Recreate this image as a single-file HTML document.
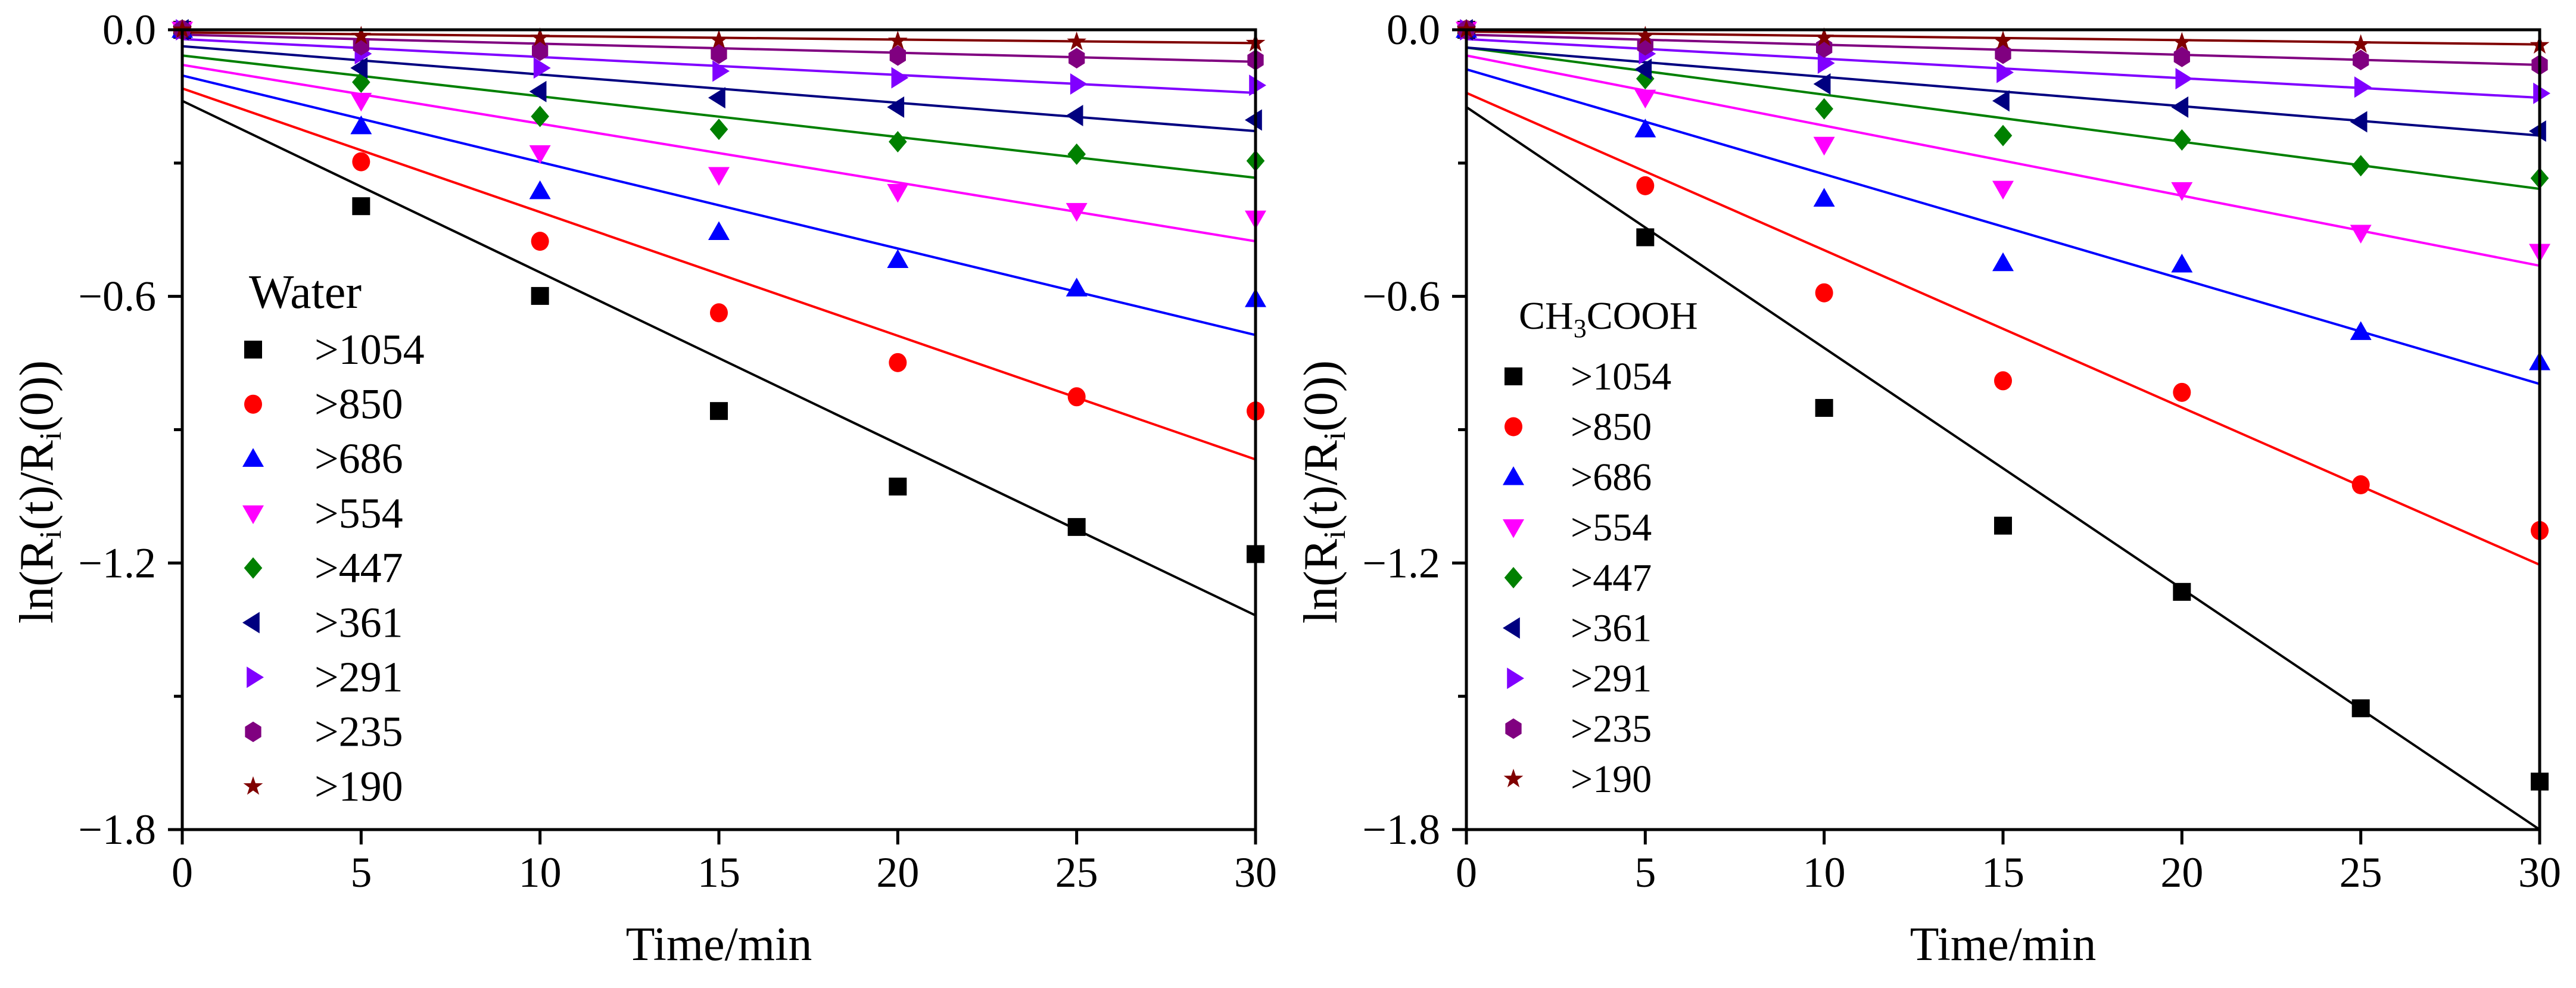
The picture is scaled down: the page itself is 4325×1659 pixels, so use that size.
<!DOCTYPE html>
<html><head><meta charset="utf-8"><style>
html,body{margin:0;padding:0;background:#fff;}
svg{display:block;font-family:"Liberation Serif","Times New Roman",serif;}
svg text{font-family:"Liberation Serif","Times New Roman",serif;}
</style></head><body>
<svg id="fig" width="4325" height="1659" viewBox="0 0 4325 1659" xmlns="http://www.w3.org/2000/svg"></svg>
<script>
// ---- data ----
const times = [0, 5, 10, 15, 20, 25, 30];
const seriesNames = [">1054", ">850", ">686", ">554", ">447", ">361", ">291", ">235", ">190"];
const seriesColors = ["#000000", "#ff0000", "#0000ff", "#ff00ff", "#008000", "#000080", "#8000ff", "#800080", "#800000"];
const seriesShapes = ["square", "circle", "up", "down", "diamond", "left", "right", "hex", "star"];
const yTicks = [0.0, -0.6, -1.2, -1.8];
const yTickLabels = ["0.0", "\u22120.6", "\u22121.2", "\u22121.8"];
const yMinorTicks = [-0.3, -0.9, -1.5];
const xTicks = [0, 5, 10, 15, 20, 25, 30];

// Water panel
const water1054 = [0, -0.397, -0.599, -0.858, -1.028, -1.119, -1.180];
const water850 = [0, -0.297, -0.476, -0.637, -0.749, -0.826, -0.858];
const water686 = [0, -0.217, -0.363, -0.455, -0.518, -0.582, -0.606];
const water554 = [0, -0.160, -0.278, -0.327, -0.365, -0.408, -0.425];
const water447 = [0, -0.118, -0.195, -0.224, -0.252, -0.280, -0.295];
const water361 = [0, -0.086, -0.139, -0.153, -0.174, -0.193, -0.203];
const water291 = [0, -0.054, -0.086, -0.093, -0.108, -0.122, -0.125];
const water235 = [0, -0.035, -0.047, -0.054, -0.058, -0.064, -0.068];
const water190 = [0, -0.014, -0.018, -0.023, -0.025, -0.027, -0.030];
const waterFitStart = [-0.160, -0.132, -0.103, -0.079, -0.058, -0.037, -0.021, -0.011, -0.006];
const waterFitEnd = [-1.318, -0.967, -0.687, -0.476, -0.333, -0.228, -0.142, -0.072, -0.030];

// CH3COOH panel
const acid1054 = [0, -0.467, -0.851, -1.116, -1.265, -1.527, -1.692];
const acid850 = [0, -0.351, -0.592, -0.790, -0.816, -1.024, -1.127];
const acid686 = [0, -0.224, -0.380, -0.525, -0.528, -0.680, -0.748];
const acid554 = [0, -0.153, -0.259, -0.358, -0.361, -0.457, -0.500];
const acid447 = [0, -0.110, -0.178, -0.238, -0.248, -0.306, -0.334];
const acid361 = [0, -0.089, -0.122, -0.160, -0.174, -0.207, -0.228];
const acid291 = [0, -0.054, -0.075, -0.096, -0.110, -0.129, -0.143];
const acid235 = [0, -0.035, -0.040, -0.054, -0.061, -0.068, -0.079];
const acid190 = [0, -0.014, -0.018, -0.025, -0.028, -0.033, -0.035];
const acidFitStart = [-0.174, -0.142, -0.089, -0.058, -0.040, -0.040, -0.021, -0.011, -0.004];
const acidFitEnd = [-1.800, -1.204, -0.797, -0.531, -0.358, -0.238, -0.153, -0.079, -0.033];

const NS = "http://www.w3.org/2000/svg";
const FONT = '"Liberation Serif", "Times New Roman", serif';
const svg = document.getElementById('fig');
function mk(tag, attrs, parent) {
  const e = document.createElementNS(NS, tag);
  for (const k in attrs) e.setAttribute(k, attrs[k]);
  if (tag === 'text') e.setAttribute('font-family', FONT);
  (parent || svg).appendChild(e);
  return e;
}

function marker(g, shape, cx, cy, color) {
  const s = 15;
  let e;
  if (shape === 'square') e = mk('rect', {x: cx - s, y: cy - s, width: 2 * s, height: 2 * s, fill: color}, g);
  else if (shape === 'circle') e = mk('ellipse', {cx: cx, cy: cy, rx: s, ry: s + 1, fill: color}, g);
  else if (shape === 'hex') e = mk('polygon', {points: [0,1,2,3,4,5].map(i => { const a = Math.PI / 3 * i + Math.PI / 6; return (cx + s * 1.05 * Math.cos(a)) + ',' + (cy + s * 1.15 * Math.sin(a)); }).join(' '), fill: color}, g);
  else if (shape === 'star') {
    const pts = [];
    for (let i = 0; i < 10; i++) { const r = i % 2 ? s * 0.45 : s * 1.15; const a = -Math.PI / 2 + i * Math.PI / 5; pts.push((cx + r * Math.cos(a)) + ',' + (cy + r * Math.sin(a))); }
    e = mk('polygon', {points: pts.join(' '), fill: color}, g);
  } else {
    let p;
    const t = s * 1.2;
    if (shape === 'up') p = [[0, -t], [t, t * 0.75], [-t, t * 0.75]];
    if (shape === 'down') p = [[0, t], [t, -t * 0.75], [-t, -t * 0.75]];
    if (shape === 'left') p = [[-t, 0], [t * 0.6, -t], [t * 0.6, t]];
    if (shape === 'right') p = [[t, 0], [-t * 0.6, -t], [-t * 0.6, t]];
    if (shape === 'diamond') p = [[0, -t], [t * 0.85, 0], [0, t], [-t * 0.85, 0]];
    e = mk('polygon', {points: p.map(q => (cx + q[0]) + ',' + (cy + q[1])).join(' '), fill: color}, g);
  }
  return e;
}

function panel(opts) {
  const L = opts.left, R = opts.left + 1802, T = 50, B = 1393;
  const xs = v => L + (v - 0) / 30 * (R - L);
  const ys = v => T + (0 - v) / 1.8 * (B - T);
  const g = mk('g', {});
  
  

  opts.series.forEach((vals, i) => {
    const ln = mk('line', {x1: xs(0), y1: ys(opts.fitStart[i]), x2: xs(30), y2: ys(opts.fitEnd[i]), stroke: seriesColors[i], 'stroke-width': 4}, g);
    
    
  });
  opts.series.forEach((vals, i) => {
    vals.forEach((v, j) => {
      const m = marker(g, seriesShapes[i], xs(times[j]), ys(v), seriesColors[i]);
      
      
    });
  });
  const fr = mk('rect', {x: L, y: T, width: R - L, height: B - T, fill: 'none', stroke: '#000', 'stroke-width': 5}, g);
  
  

  yTicks.forEach((v, i) => {
    mk('line', {x1: L - 24, y1: ys(v), x2: L, y2: ys(v), stroke: '#000', 'stroke-width': 5}, g);
    const t = mk('text', {x: L - 44, y: ys(v) + 24, 'font-size': 72, 'text-anchor': 'end'}, g);
    t.textContent = yTickLabels[i];
    
    
  });
  yMinorTicks.forEach(v => {
    mk('line', {x1: L - 14, y1: ys(v), x2: L, y2: ys(v), stroke: '#000', 'stroke-width': 5}, g);
  });
  xTicks.forEach(v => {
    mk('line', {x1: xs(v), y1: B, x2: xs(v), y2: B + 25, stroke: '#000', 'stroke-width': 5}, g);
    const t = mk('text', {x: xs(v), y: 1489, 'font-size': 72, 'text-anchor': 'middle'}, g);
    t.textContent = v;
    
    
  });
  const xt = mk('text', {x: (L + R) / 2, y: 1612, 'font-size': 80, 'text-anchor': 'middle'}, g);
  xt.textContent = 'Time/min';
  
  
  const yt = mk('text', {x: 0, y: 0, 'font-size': 80, 'text-anchor': 'middle', transform: 'translate(' + (L - 218) + ',826) rotate(-90)'}, g);
  yt.innerHTML = 'ln(R<tspan font-size="52" dy="14">i</tspan><tspan dy="-14">(t)/R</tspan><tspan font-size="52" dy="14">i</tspan><tspan dy="-14">(0))</tspan>';
  
  

  const lg = mk('g', {}, g);
  
  
  const title = mk('text', {x: opts.legTitleX, y: opts.legTitleY, 'font-size': opts.legTitleSize}, lg);
  title.innerHTML = opts.legTitle;
  
  
  seriesNames.forEach((n, i) => {
    const cy = opts.legY0 + i * opts.legStep;
    const m = marker(lg, seriesShapes[i], opts.legSymX, cy, seriesColors[i]);
    
    
    const t = mk('text', {x: opts.legTextX, y: cy + opts.legFont * 0.33, 'font-size': opts.legFont}, lg);
    t.textContent = n;
    
    
  });
}

panel({name: 'water-panel', left: 306,
  series: [water1054, water850, water686, water554, water447, water361, water291, water235, water190],
  fitStart: waterFitStart, fitEnd: waterFitEnd,
  legTitle: 'Water', legTitleX: 418, legTitleY: 517, legTitleSize: 80,
  legSymX: 425, legTextX: 528, legY0: 587, legStep: 91.7, legFont: 72});

panel({name: 'acetic-acid-panel', left: 2462,
  series: [acid1054, acid850, acid686, acid554, acid447, acid361, acid291, acid235, acid190],
  fitStart: acidFitStart, fitEnd: acidFitEnd,
  legTitle: 'CH<tspan font-size="44" dy="14">3</tspan><tspan dy="-14">COOH</tspan>', legTitleX: 2550, legTitleY: 552, legTitleSize: 66,
  legSymX: 2541, legTextX: 2637, legY0: 632, legStep: 84.5, legFont: 66});
</script>
</body></html>
